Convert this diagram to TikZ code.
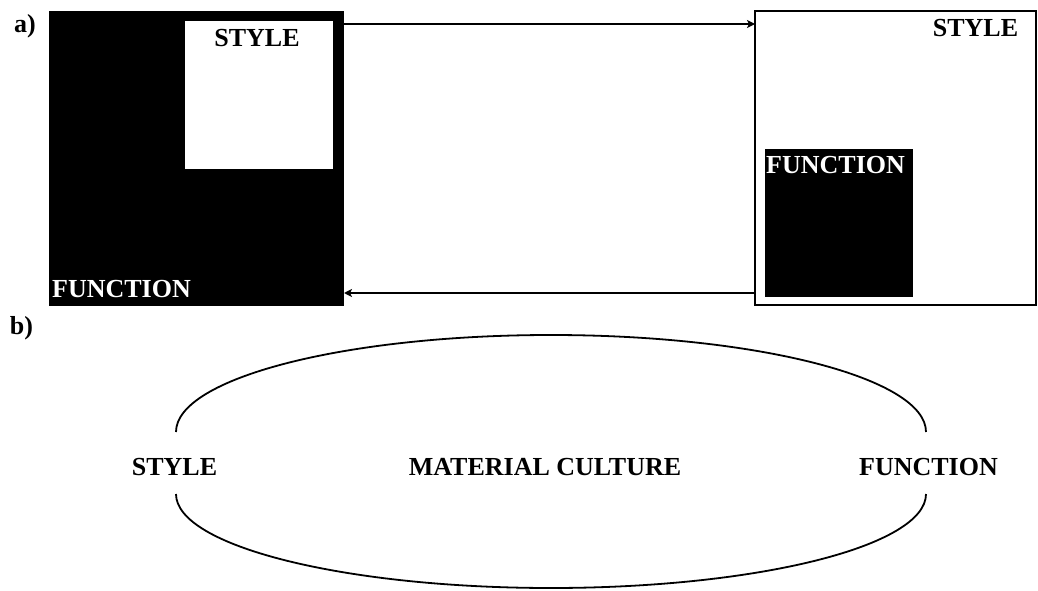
\documentclass[tikz,border=0pt]{standalone}
\usepackage{fontspec}
\setmainfont{Liberation Serif}
\usetikzlibrary{arrows.meta}

\begin{document}
\begin{tikzpicture}[x=1pt, y=1pt,
    lbl/.style={font=\fontsize{26}{30}\selectfont\bfseries, inner sep=0pt},
    box/.style={rectangle, inner sep=0pt, outer sep=0pt},
    link/.style={line width=1.5pt, -{Stealth[length=8pt, width=8pt, inset=2pt]}}]
    \useasboundingbox (0, 0) rectangle (1038, 590);
    % a)
    \node [lbl] (tagA) at (25, 564) {a)};
    \node [box, fill=black, minimum width=295, minimum height=295] (boxL) at (196.5, 431.5) {};
    \node [box, fill=white, minimum width=148, minimum height=148] (innerL) at (259, 495) {};
    \node [lbl] (styleL) at (257, 552) {STYLE};
    \node [lbl, text=white, anchor=west] (funcL) at (52, 301) {FUNCTION};
    \node [box, draw, line width=2pt, minimum width=281, minimum height=294] (boxR) at (895.5, 432) {};
    \node [box, fill=black, minimum width=148, minimum height=148] (innerR) at (839, 367) {};
    \node [lbl, text=white, anchor=west] (funcR) at (766, 425) {FUNCTION};
    \node [lbl] (styleR) at (975.5, 562) {STYLE};
    \coordinate (upper) at (0, 566);
    \coordinate (lower) at (0, 297);
    \draw [link] (boxL.east |- upper) -- (boxR.west |- upper);
    \draw [link] (boxR.west |- lower) -- (boxL.east |- lower);
    % b)
    \node [lbl] (tagB) at (21.5, 262) {b)};
    \coordinate (top) at (551, 158);
    \coordinate (bot) at (551, 96);
    \draw [line width=1.8pt] (top) ++(180:375 and 97)
        arc [start angle=180, end angle=0, x radius=375, y radius=97];
    \draw [line width=1.8pt] (bot) ++(180:375 and 94)
        arc [start angle=180, end angle=360, x radius=375, y radius=94];
    \node [lbl] (styleB) at (174.5, 123) {STYLE};
    \node [lbl] (cult) at (545, 123) {MATERIAL CULTURE};
    \node [lbl] (funcB) at (928.5, 123) {FUNCTION};
\end{tikzpicture}
\end{document}
